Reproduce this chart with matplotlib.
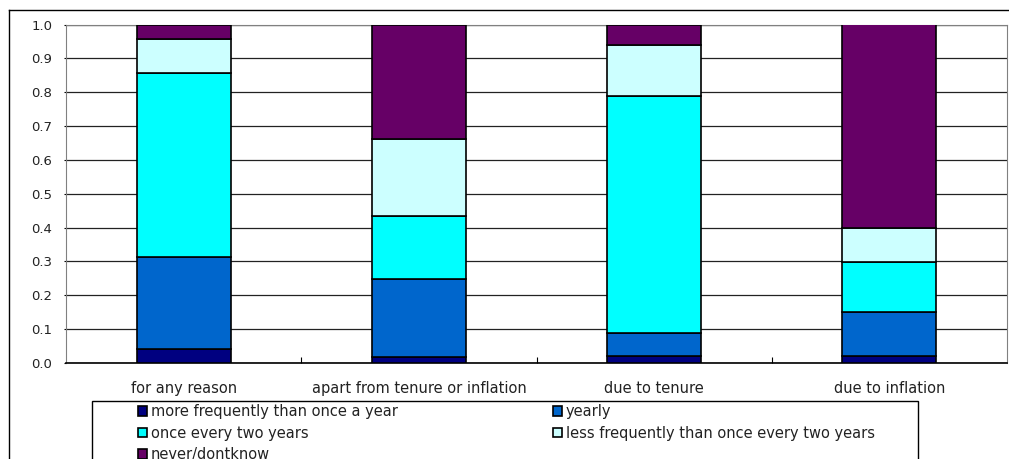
import numpy as np
import matplotlib.pyplot as plt
from matplotlib.lines import Line2D
from matplotlib.patches import Rectangle

# categories and stacked shares
categories = ["for any reason", "apart from tenure or inflation", "due to tenure", "due to inflation"]
labels = ["more frequently than once a year", "yearly", "once every two years",
          "less frequently than once every two years", "never/dontknow"]
more_freq = [0.040, 0.019, 0.020, 0.020]
yearly = [0.273, 0.228, 0.070, 0.130]
two_years = [0.545, 0.187, 0.699, 0.148]
less_freq = [0.099, 0.229, 0.150, 0.101]
never = [0.043, 0.337, 0.061, 0.601]
colors = ["#000080", "#0066CC", "#00FFFF", "#CCFFFF", "#660066"]

series = [more_freq, yearly, two_years, less_freq, never]

W, H = 1009, 459
fig = plt.figure(figsize=(W/100, H/100), dpi=100)
ax = fig.add_axes([66/W, 1-363/H, 941/W, 338.5/H])

x = np.arange(len(categories))
bottom = np.zeros(len(categories))
handles = []
for vals, c, lab in zip(series, colors, labels):
    b = ax.bar(x, vals, width=0.4, bottom=bottom, color=c, edgecolor="black",
               linewidth=1.2, label=lab, zorder=3)
    handles.append(b)
    bottom += np.array(vals)

ax.set_xlim(-0.5, len(categories) - 0.5)
ax.set_ylim(0, 1.0)
ticks = np.arange(0, 1.01, 0.1)
ax.set_yticks(ticks)
ax.set_yticklabels([f"{v:.1f}" for v in ticks], fontsize=9.5, color="#222222")
ax.yaxis.grid(True, color="#222222", linewidth=0.9, zorder=0)
ax.tick_params(axis="y", length=1.5, pad=8.5)

# category boundary ticks and labels
ax.set_xticks(x[:-1] + 0.5)
ax.set_xticklabels([])
ax.set_xticks(x, minor=True)
ax.set_xticklabels(categories, minor=True, fontsize=10.5, color="#222222")
ax.tick_params(axis="x", which="major", direction="in", length=4)
ax.tick_params(axis="x", which="minor", length=0, pad=13)

for s in ["top", "right", "left"]:
    ax.spines[s].set_color("#808080")
ax.spines["bottom"].set_color("black")
ax.spines["bottom"].set_linewidth(1.2)

# outer chart frame (cropped at right and bottom)
fig.add_artist(Line2D([9/W, 9/W], [0, 1-10/H], color="black", linewidth=1,
                      transform=fig.transFigure))
fig.add_artist(Line2D([9/W, 1], [1-10/H, 1-10/H], color="black", linewidth=1,
                      transform=fig.transFigure))

# legend box (runs past the bottom edge)
fig.add_artist(Rectangle((92/W, -0.1), 826/W, 1-401/H + 0.1, fill=False,
                         edgecolor="black", linewidth=1, transform=fig.transFigure))

# legend entries, row-major order
order = [0, 2, 4, 1, 3]
leg = fig.legend([handles[i] for i in order], [labels[i] for i in order], ncol=2,
                 loc="upper left", bbox_to_anchor=(138/W, 0, 737/W, 1-404/H),
                 mode="expand", frameon=False,
                 handlelength=0.65, handleheight=0.65, handletextpad=0.25,
                 labelspacing=0.45, borderpad=0, borderaxespad=0,
                 prop={"size": 10.5})
for t in leg.get_texts():
    t.set_color("#222222")

fig.savefig("out.png", dpi=100)
